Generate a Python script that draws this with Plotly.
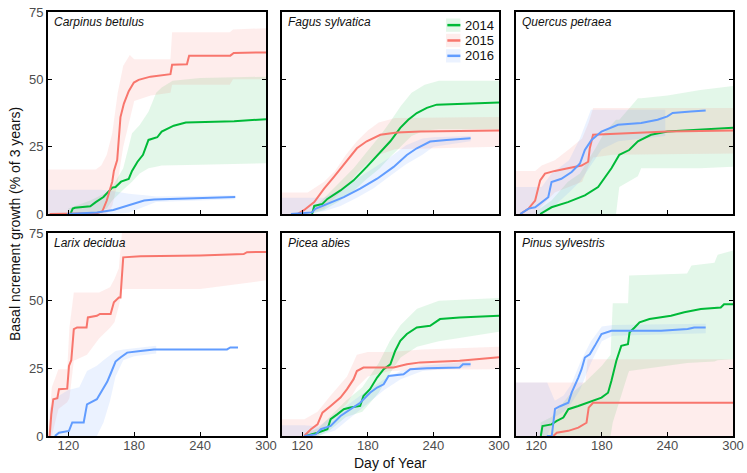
import plotly.graph_objects as go

# ---------------- data ----------------
species = ["Carpinus betulus", "Fagus sylvatica", "Quercus petraea",
           "Larix decidua", "Picea abies", "Pinus sylvestris"]
years = ["2014", "2015", "2016"]

# Carpinus betulus
C14_day = [122, 124, 126, 140, 145, 152, 160, 163, 168, 175, 178, 183, 188, 193, 201, 205, 216, 227, 271, 300]
C14_val = [0, 2, 2.3, 2.9, 4.4, 6.3, 9.8, 10, 12, 13, 16, 19.4, 22, 27.5, 28.5, 30.6, 32.8, 34, 34.4, 35.2]
C14_bday = [120, 140, 155, 160, 170, 178, 185, 193, 200, 205, 215, 240, 300]
C14_lo = [0, 0, 2, 5, 9, 12, 15, 17, 17.5, 18, 18, 18.3, 18.8]
C14_hi = [2, 5, 8, 10, 17, 30, 33, 38, 45, 47, 49.5, 50.5, 51]
C15_day = [103, 146, 151, 155, 160, 161.5, 164.5, 167.5, 170.6, 175, 179.7, 184, 194.8, 213, 214.5, 228, 230, 267.5, 270.6, 300]
C15_val = [0, 0.3, 1, 5, 12, 16, 20, 36, 41, 45.6, 48.8, 49.8, 51, 51.9, 55.4, 55.6, 58.8, 58.8, 59.8, 60]
C15_bday = [101.5, 145, 150, 155, 160, 165, 170, 176, 180, 195, 213, 214.5, 267, 270, 300]
C15_lo = [0, 0, 0, 0, 3, 12, 25, 35, 42, 44, 45, 48, 48, 50, 50]
C15_hi = [16.5, 16.5, 18, 22, 30, 45, 55, 59, 57.5, 57.5, 57.5, 67.5, 67.5, 68.5, 69]
C16_day = [119, 146, 161, 170, 175, 180, 189, 198, 216, 240, 272]
C16_val = [0, 0.6, 1.5, 2.7, 3.2, 3.8, 5, 5.4, 5.6, 6, 6.3]
C16_bday = [101.5, 150, 160, 175, 190, 200, 272]
C16_lo = [0, 0, 0, 0.5, 3, 4.5, 5.5]
C16_hi = [9, 9, 8.5, 7.5, 7, 6.5, 7]

# Fagus sylvatica
F14_day = [129, 131, 138.5, 143, 155, 167, 179, 191.5, 200.6, 209.7, 217, 224.8, 234, 243, 264, 300]
F14_val = [0, 3, 3.75, 5.6, 8.75, 12.5, 17.5, 23, 27, 32, 35, 37.5, 39.4, 40.6, 40.8, 41.4]
F14_bday = [128, 140, 155, 167, 179, 191, 200, 210, 220, 232, 245, 300]
F14_lo = [0, 1.5, 5, 8.5, 13, 17, 21, 25, 29, 31, 31.5, 31.5]
F14_hi = [1, 6, 12, 17, 23, 29, 34, 40, 45, 48, 49.5, 49.5]
F15_day = [115.7, 121.8, 131, 140, 149, 161, 170, 179, 191.5, 206.6, 228, 300]
F15_val = [0, 1.5, 4.4, 9.4, 13.8, 20, 24.4, 27, 29.4, 30.25, 30.6, 31]
F15_bday = [101.5, 125, 140, 150, 160, 170, 180, 190, 205, 300]
F15_lo = [0, 0, 2, 6, 10, 15, 19, 22, 24, 25]
F15_hi = [8, 8, 12, 16, 22, 27, 31, 34, 35.6, 36]
F16_day = [109.7, 129, 132, 143, 158, 173, 188.5, 203.6, 215.7, 224.8, 237, 252, 274]
F16_val = [0, 0.6, 1.9, 3.75, 6.25, 9.4, 13.1, 17.5, 21.9, 24.4, 26.9, 27.5, 28.1]
F16_bday = [101.5, 125, 140, 155, 170, 185, 200, 215, 230, 240, 274]
F16_lo = [0, 0, 1, 3, 6, 9.5, 14, 18.5, 22, 25, 27]
F16_hi = [6, 6, 6, 9, 13, 17, 21, 25.5, 28, 28.5, 29]

# Quercus petraea
Q14_day = [123.6, 134, 149, 164.5, 176.6, 182.7, 188.8, 196, 205, 213, 225, 240, 270.6, 290.9, 300]
Q14_val = [0, 2.5, 4.4, 6.9, 10, 13.75, 17, 22, 23.75, 27, 29.4, 30.6, 31.25, 31.9, 32]
Q14_bday = [120, 134, 149, 160, 175, 182, 193, 196, 213, 216, 240, 270, 300]
Q14_lo = [0, 0, 0, 0, 0, 0, 0, 10, 14, 17, 17, 17, 17.5]
Q14_hi = [1, 5, 12, 15, 25, 30, 35, 35, 43, 43, 44, 46, 47.5]
Q15_day = [105.4, 113, 119, 123.6, 128, 137, 149, 161.5, 167.5, 169, 172, 210, 240, 300]
Q15_val = [0, 2, 5, 12.5, 15, 16, 17, 18, 19.4, 24.4, 29.4, 30, 30.6, 31]
Q15_bday = [101.5, 119, 125, 137, 150, 162, 168, 172, 190, 300]
Q15_lo = [0, 0, 3, 8, 10, 12, 18, 21, 22, 22.5]
Q15_hi = [16, 16, 18, 20, 24, 28, 34, 39.4, 39.4, 39.4]
Q16_day = [105.4, 113, 119, 125, 131, 134, 143, 152.4, 160, 164.5, 170.6, 179.7, 194.8, 216, 231, 240, 244.8, 261.5, 275]
Q16_val = [0, 2, 2.5, 4.4, 6.25, 11.9, 13.1, 15.6, 18.75, 23.75, 27.5, 30.6, 33.1, 33.75, 35, 36.25, 37.5, 38.1, 38.4]
Q16_bday = [101.5, 125, 134, 150, 160, 170, 180, 195, 215, 238]
Q16_lo = [0, 0, 2, 8, 12, 18, 24, 27, 28, 29]
Q16_hi = [10, 10, 15, 20, 28, 38.75, 38.75, 38.75, 38.75, 38.75]

# Larix decidua (no 2014)
L15_day = [103, 104.5, 106.3, 110, 111.5, 119, 120.6, 122.7, 125, 128, 136.6, 137.8, 146, 148.8, 158.5, 161.5, 166, 167.5, 170, 185.7, 240, 279.7, 282.7, 300]
L15_val = [0, 8, 13.6, 14, 17.3, 17.5, 25.9, 28, 39.5, 40.1, 40.1, 43.8, 44.4, 45.1, 45.1, 49.4, 51.2, 51.2, 66, 66.4, 66.7, 67.2, 67.9, 68]
L15_bday = [101.5, 105, 111, 119, 121, 125, 137, 148, 158, 162, 166, 169, 172, 240, 270, 300]
L15_lo = [0, 0, 10, 12.5, 14, 27.8, 30, 36, 40, 42, 48, 54, 54.3, 54.3, 56, 57.5]
L15_hi = [0, 18, 24.7, 24.7, 40, 53, 53, 53, 55, 58, 62, 76, 76, 76, 76, 76]
L16_day = [107.8, 111.5, 120.6, 123.6, 134, 137, 146, 151, 155.4, 158.5, 163, 167.5, 173.6, 185.7, 198, 264.5, 267.5, 274.5]
L16_val = [0, 1.2, 1.9, 5, 5, 11.7, 13.6, 17.3, 20, 23, 27.5, 29, 30.8, 31.4, 32, 32, 32.7, 32.7]
L16_bday = [103, 108, 120, 130, 137, 146, 152, 158, 163, 170, 180, 200]
L16_lo = [0, 0, 0, 0, 0, 0, 5, 13, 22, 28, 29.5, 30.5]
L16_hi = [10, 14, 17, 18, 24, 26, 28, 30, 31.4, 32, 32.5, 33.3]

# Picea abies
P14_day = [123.3, 134, 143, 146, 152, 158, 164, 173, 176, 182, 188.5, 194.5, 200.6, 205, 209.7, 215.7, 224.8, 237, 246, 264, 300]
P14_val = [0, 1.2, 2.5, 6.2, 8, 9.9, 10.5, 11.1, 14.8, 17.3, 21.6, 24.7, 26.5, 31.4, 35.2, 37.7, 40.1, 40.7, 43.2, 43.8, 44.4]
P14_bday = [123, 135, 145, 160, 175, 190, 200, 210, 225, 245, 300]
P14_lo = [0, 0, 2, 7, 9, 16, 23, 29, 33, 35, 38.5]
P14_hi = [1, 3, 7, 13, 18, 27, 35, 41, 47, 50, 51]
P15_day = [121.8, 128, 134, 138.5, 146, 155, 161, 167, 170, 176, 203.6, 215.7, 228, 264, 300]
P15_val = [0, 2.5, 4.3, 8.6, 11.1, 14.2, 17.3, 21, 24, 25.3, 25.3, 26.5, 27.2, 27.8, 29.1]
P15_bday = [101.5, 122, 134, 146, 161, 170, 180, 200, 230, 300]
P15_lo = [0, 0, 0, 6, 12, 18, 22, 24, 24.5, 24.7]
P15_hi = [6.2, 6.2, 9, 15, 22, 30, 31, 31, 32, 33]
P16_day = [121.8, 132.4, 137, 146, 155, 164, 173, 182, 188.5, 194.5, 199, 212.7, 218.8, 234, 264, 267, 274]
P16_val = [0, 0.6, 2.5, 3.7, 7.4, 9.9, 12.3, 16, 17.9, 19.1, 22.2, 22.8, 24.7, 25, 25.3, 26.5, 26.5]
P16_bday = [101.5, 122, 135, 150, 165, 180, 195, 210, 230, 274]
P16_lo = [0, 0, 0, 2, 7, 12, 17, 21, 24, 25.5]
P16_hi = [4, 4, 3.5, 8, 12.5, 17, 21, 24, 26, 27.5]

# Pinus sylvestris
S14_day = [124.2, 125.7, 134, 138.8, 144.8, 149.4, 158.5, 167.5, 179.7, 185.7, 188.8, 193.3, 197.8, 203.9, 205.4, 210, 214.5, 223.6, 243.3, 255.4, 270.6, 288.8, 291.8, 300]
S14_val = [0, 3.7, 4.3, 5.6, 6.8, 9.9, 11.1, 12.3, 14.2, 16, 20.4, 27.8, 33.3, 33.9, 38.3, 40.1, 42, 43.2, 44.4, 45.7, 46.9, 47.5, 48.7, 48.7]
S14_bday = [124, 134, 150, 165, 180, 188, 190, 204, 205, 258, 262, 283, 286, 300]
S14_lo = [0, 0, 0, 0, 0, 0, 5, 23, 24, 27, 27, 27.5, 28, 28.4]
S14_hi = [5, 7, 15, 20, 26, 30, 49, 49, 59.3, 60, 63, 64, 67, 68.5]
S15_day = [135.7, 138.8, 149.4, 158.5, 166, 168, 172, 300]
S15_val = [0, 1.2, 1.9, 3.1, 4.9, 10.5, 12.3, 12.3]
S15_bday = [101.5, 165, 167, 300]
S15_lo = [0, 0, 0, 0]
S15_hi = [19.8, 19.8, 28.4, 28.4]
S16_day = [129.7, 134.2, 137.2, 141.8, 149.4, 152.4, 158.5, 161.5, 164.5, 169, 173.6, 179.7, 188.8, 234.2, 258.5, 264.5, 275]
S16_val = [0, 0, 10, 11, 12.3, 16, 21.6, 24.7, 29, 30.2, 33.3, 37.7, 38.9, 38.9, 39.5, 40.1, 40.1]
S16_bday = [101.5, 130, 137, 145, 152, 160, 170, 180, 190, 275]
S16_lo = [0, 0, 7, 9, 12, 17, 27, 35, 37, 38]
S16_hi = [19.8, 19.8, 13, 15, 19, 27, 35, 40.5, 41, 41.5]

x_ticks = [120, 180, 240, 300]
y_ticks = [0, 25, 50, 75]

panels = [
    {"2014": (C14_day, C14_val, C14_bday, C14_lo, C14_hi),
     "2015": (C15_day, C15_val, C15_bday, C15_lo, C15_hi),
     "2016": (C16_day, C16_val, C16_bday, C16_lo, C16_hi)},
    {"2014": (F14_day, F14_val, F14_bday, F14_lo, F14_hi),
     "2015": (F15_day, F15_val, F15_bday, F15_lo, F15_hi),
     "2016": (F16_day, F16_val, F16_bday, F16_lo, F16_hi)},
    {"2014": (Q14_day, Q14_val, Q14_bday, Q14_lo, Q14_hi),
     "2015": (Q15_day, Q15_val, Q15_bday, Q15_lo, Q15_hi),
     "2016": (Q16_day, Q16_val, Q16_bday, Q16_lo, Q16_hi)},
    {"2015": (L15_day, L15_val, L15_bday, L15_lo, L15_hi),
     "2016": (L16_day, L16_val, L16_bday, L16_lo, L16_hi)},
    {"2014": (P14_day, P14_val, P14_bday, P14_lo, P14_hi),
     "2015": (P15_day, P15_val, P15_bday, P15_lo, P15_hi),
     "2016": (P16_day, P16_val, P16_bday, P16_lo, P16_hi)},
    {"2014": (S14_day, S14_val, S14_bday, S14_lo, S14_hi),
     "2015": (S15_day, S15_val, S15_bday, S15_lo, S15_hi),
     "2016": (S16_day, S16_val, S16_bday, S16_lo, S16_hi)},
]

# ---------------- styling ----------------
colors = {"2014": "#00BA38", "2015": "#F8766D", "2016": "#619CFF"}
fills = {"2014": "rgba(0,186,56,0.11)", "2015": "rgba(248,118,109,0.13)", "2016": "rgba(97,156,255,0.13)"}
FONT = "Liberation Sans, Arial, Helvetica, sans-serif"

W, H = 747, 473
ML, MR, MT, MB = 48, 14, 12, 37
PW, PH = W - ML - MR, H - MT - MB
col_px = [(48, 266), (282, 499), (516, 733)]
row_px = [(12, 214), (233, 436)]

def xdom(c):
    a, b = col_px[c]
    return [(a - ML) / PW, (b - ML) / PW]

def ydom(r):
    a, b = row_px[r]
    return [(H - MB - b) / PH, (H - MB - a) / PH]

fig = go.Figure()

for i, pdata in enumerate(panels):
    ax = "" if i == 0 else str(i + 1)
    # bands first
    for yr in years:
        if yr not in pdata:
            continue
        d, v, bd, lo, hi = pdata[yr]
        fig.add_trace(go.Scatter(
            x=list(bd) + list(bd)[::-1], y=list(hi) + list(lo)[::-1],
            fill="toself", fillcolor=fills[yr], line=dict(width=0),
            mode="lines", hoverinfo="skip", showlegend=False,
            xaxis="x" + ax, yaxis="y" + ax))
    for yr in years:
        if yr not in pdata:
            continue
        d, v, bd, lo, hi = pdata[yr]
        fig.add_trace(go.Scatter(
            x=d, y=v, mode="lines", line=dict(color=colors[yr], width=2),
            showlegend=False, name=yr, xaxis="x" + ax, yaxis="y" + ax))

layout = dict(
    width=W, height=H, margin=dict(l=ML, r=MR, t=MT, b=MB, autoexpand=False),
    paper_bgcolor="white", plot_bgcolor="white",
    font=dict(family=FONT, size=13, color="#222"),
    showlegend=False,
)
annotations = []
shapes = []
for i in range(6):
    r, c = divmod(i, 3)
    ax = "" if i == 0 else str(i + 1)
    layout["xaxis" + ax] = dict(
        domain=xdom(c), range=[101.5, 300], tickvals=x_ticks,
        ticks="inside", ticklen=4, tickwidth=1, tickcolor="black",
        showline=True, linecolor="black", linewidth=2, mirror=True,
        showgrid=False, zeroline=False, showticklabels=(r == 1),
        tickfont=dict(size=13, color="#4d4d4d"), ticklabelstandoff=-4,
        automargin=False, anchor="y" + ax, fixedrange=True)
    layout["yaxis" + ax] = dict(
        domain=ydom(r), range=[0, 75], tickvals=y_ticks,
        ticks="inside", ticklen=4, tickwidth=1, tickcolor="black",
        showline=True, linecolor="black", linewidth=2, mirror="ticks",
        showgrid=False, zeroline=False, showticklabels=(c == 0),
        tickfont=dict(size=13, color="#4d4d4d"),
        automargin=False, anchor="x" + ax, fixedrange=True)
    annotations.append(dict(
        text="<i>" + species[i] + "</i>", xref="x" + ax + " domain", yref="y" + ax + " domain",
        x=0.018, y=0.995, xanchor="left", yanchor="top", showarrow=False,
        font=dict(size=12, color="#111", family=FONT)))

# legend drawn inside Fagus panel
for k, yr in enumerate(years):
    yc = 0.935 - k * 0.076
    shapes.append(dict(type="rect", xref="x2 domain", yref="y2 domain",
                       x0=0.756, x1=0.822, y0=yc - 0.033, y1=yc + 0.033,
                       fillcolor=fills[yr], line=dict(width=0), layer="above"))
    shapes.append(dict(type="line", xref="x2 domain", yref="y2 domain",
                       x0=0.762, x1=0.822, y0=yc, y1=yc,
                       line=dict(color=colors[yr], width=2.5), layer="above"))
    annotations.append(dict(text=yr, xref="x2 domain", yref="y2 domain",
                            x=0.832, y=yc, xanchor="left", yanchor="middle",
                            showarrow=False, font=dict(size=13, color="#111", family=FONT)))

annotations.append(dict(text="Basal ncrement growth (% of 3 years)", xref="paper", yref="paper",
                        x=(15 - ML) / PW, y=(H - MB - 224) / PH, textangle=-90,
                        xanchor="center", yanchor="middle", showarrow=False,
                        font=dict(size=14, color="#111", family=FONT)))
annotations.append(dict(text="Day of Year", xref="paper", yref="paper",
                        x=(390 - ML) / PW, y=(H - MB - 463) / PH,
                        xanchor="center", yanchor="middle", showarrow=False,
                        font=dict(size=14, color="#111", family=FONT)))

layout["annotations"] = annotations
layout["shapes"] = shapes
fig.update_layout(**layout)
fig.write_html("out.html")
